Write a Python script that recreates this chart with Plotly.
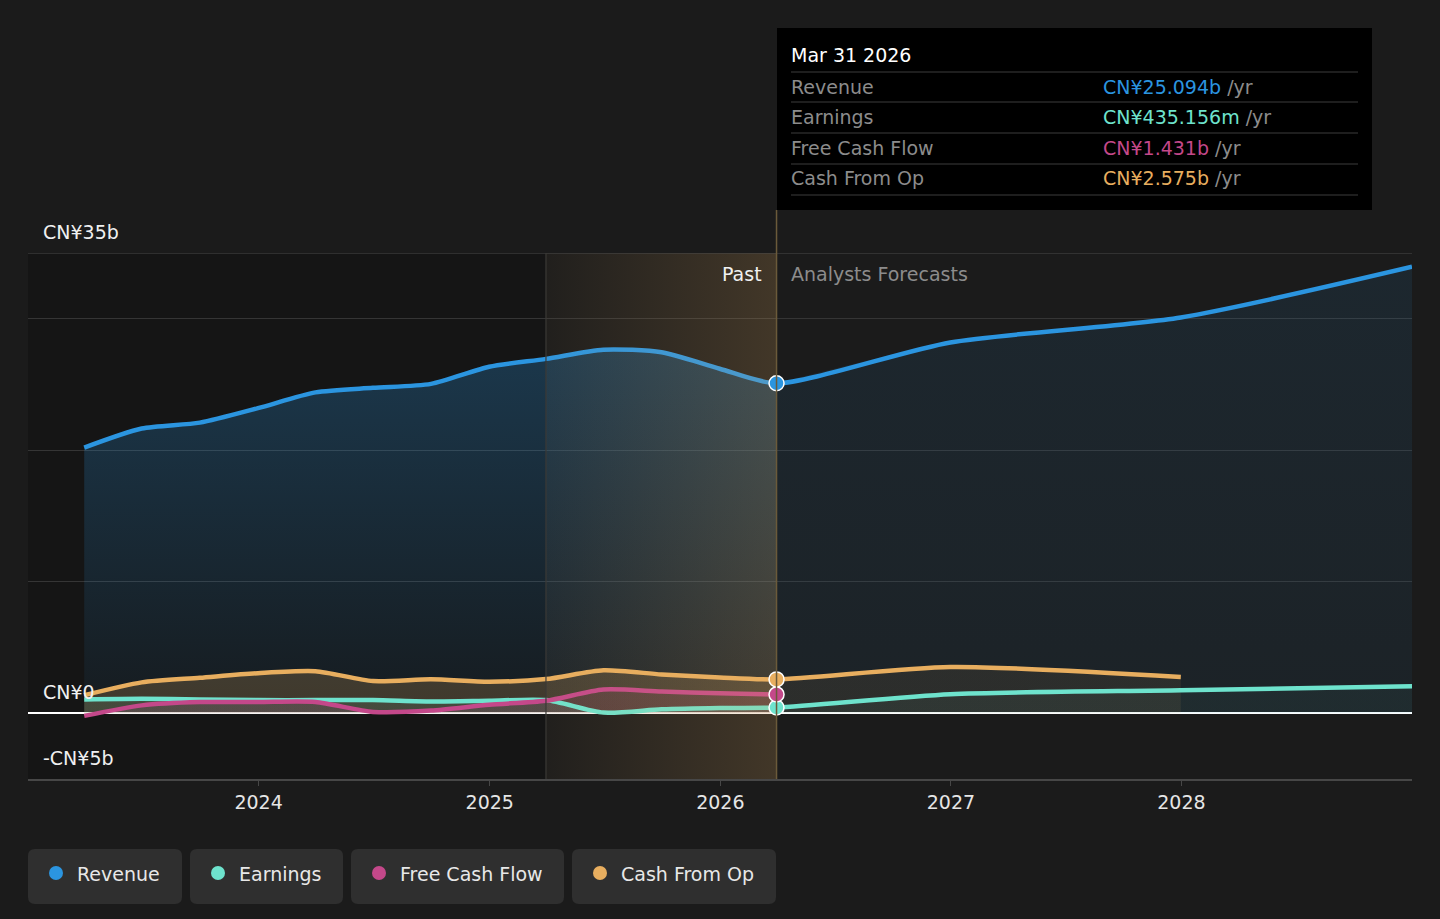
import plotly.graph_objects as go
import datetime as dt

# values in CN¥ billions
past_dates = ["2023-03-31", "2023-06-30", "2023-09-30", "2023-12-31", "2024-03-31",
              "2024-06-30", "2024-09-30", "2024-12-31", "2025-03-31", "2025-06-30",
              "2025-09-30", "2025-12-31", "2026-03-31"]
revenue_past = [20.2, 21.65, 22.1, 23.2, 24.4, 24.75, 25.05, 26.35, 26.95, 27.65, 27.45, 26.2, 25.094]
earnings_past = [1.05, 1.1, 1.05, 1.0, 1.0, 1.0, 0.9, 0.95, 1.0, 0.05, 0.3, 0.4, 0.435156]
fcf_past = [-0.2, 0.6, 0.85, 0.85, 0.85, 0.1, 0.2, 0.65, 0.95, 1.8, 1.65, 1.52, 1.431]
cfo_past = [1.37, 2.35, 2.7, 3.05, 3.2, 2.45, 2.58, 2.4, 2.6, 3.27, 2.95, 2.72, 2.575]

fc_dates = ["2026-03-31", "2026-12-31", "2027-12-31", "2028-12-31"]
revenue_fc = [25.094, 28.2, 30.1, 33.95]
earnings_fc = [0.435156, 1.45, 1.75, 2.05]
cfo_fc = [2.575, 3.52, 2.76]

series_names = ["Revenue", "Earnings", "Free Cash Flow", "Cash From Op"]
colors = ["#2b95e0", "#6ee3cd", "#c4488a", "#e8ae5f"]

x_range = ["2023-01-01", "2028-12-31"]
y_range = [-5, 35]
year_ticks = ["2024-01-01", "2025-01-01", "2026-01-01", "2027-01-01", "2028-01-01"]
year_labels = ["2024", "2025", "2026", "2027", "2028"]
y_label_vals = [35, 0, -5]
y_label_text = ["CN¥35b", "CN¥0", "-CN¥5b"]
highlight_start = "2025-03-31"
today = "2026-03-31"
tooltip_date = "Mar 31 2026"

FONT = "DejaVu Sans"
BG = "#1b1b1b"

# plot area in pixels (for placing the overlay boxes)
L, R, T, B = 28, 1412, 253, 779


def px(x):
    return (x - L) / (R - L)


def py(y):
    return (B - y) / (B - T)


def fmt(v):
    if abs(v) < 1:
        return f"CN¥{v * 1000:.3f}m"
    return f"CN¥{v:.3f}b"


def rgba(hexc, a):
    h = hexc.lstrip("#")
    r, g, b = int(h[0:2], 16), int(h[2:4], 16), int(h[4:6], 16)
    return f"rgba({r},{g},{b},{a})"


fig = go.Figure()

# area fills (past brighter, forecast dimmer)
fills = [
    (past_dates, revenue_past, colors[0], 0.05, 0.27),
    (fc_dates, revenue_fc, colors[0], 0.06, 0.10),
    (past_dates, cfo_past, colors[3], 0.2, 0.2),
    (fc_dates[:3], cfo_fc, colors[3], 0.08, 0.08),
    (past_dates, fcf_past, colors[2], 0.14, 0.14),
    (past_dates, earnings_past, colors[1], 0.1, 0.1),
    (fc_dates, earnings_fc, colors[1], 0.05, 0.05),
]
for xs, ys, c, a0, a1 in fills:
    fig.add_trace(go.Scatter(
        x=xs, y=ys, mode="lines", fill="tozeroy",
        line=dict(width=0, shape="spline", smoothing=0.7),
        fillgradient=dict(type="vertical", colorscale=[[0, rgba(c, a0)], [1, rgba(c, a1)]]),
        hoverinfo="skip", showlegend=False,
    ))

# lines
lines = [
    (past_dates + fc_dates[1:], revenue_past + revenue_fc[1:], colors[0]),
    (past_dates + fc_dates[1:], earnings_past + earnings_fc[1:], colors[1]),
    (past_dates, fcf_past, colors[2]),
    (past_dates + fc_dates[1:3], cfo_past + cfo_fc[1:], colors[3]),
]
for (xs, ys, c), name in zip(lines, series_names):
    fig.add_trace(go.Scatter(
        x=xs, y=ys, mode="lines", name=name,
        line=dict(color=c, width=4.5, shape="spline", smoothing=0.7),
        hoverinfo="skip", showlegend=False,
    ))

# highlighted last year of the past (drawn over the lines)
fig.add_trace(go.Scatter(
    x=[highlight_start, today, today, highlight_start],
    y=[y_range[0], y_range[0], y_range[1], y_range[1]],
    mode="none", fill="toself",
    fillgradient=dict(type="horizontal",
                      colorscale=[[0, "rgba(232,174,96,0.03)"], [1, "rgba(232,174,96,0.19)"]]),
    hoverinfo="skip", showlegend=False,
))

# markers at the current point
now_vals = [revenue_past[-1], earnings_past[-1], fcf_past[-1], cfo_past[-1]]
for v, c in zip(now_vals, colors):
    fig.add_trace(go.Scatter(
        x=[today], y=[v], mode="markers",
        marker=dict(size=15, color=c, line=dict(color="white", width=1.5)),
        hoverinfo="skip", showlegend=False,
    ))

shapes = []
# darker past region
shapes.append(dict(type="rect", xref="x", yref="paper", x0=x_range[0], x1=highlight_start,
                   y0=0, y1=1, fillcolor="rgba(0,0,0,0.2)", line_width=0, layer="below"))
# top gridline
shapes.append(dict(type="line", xref="paper", yref="y", x0=0, x1=1, y0=35, y1=35,
                   line=dict(color="#4a4a4a", width=1.2)))
# edge of highlight
shapes.append(dict(type="line", xref="x", yref="paper", x0=highlight_start, x1=highlight_start,
                   y0=0, y1=1, line=dict(color="#3c3a36", width=1.2)))

# today line, running up to the tooltip
d0 = dt.date.fromisoformat(x_range[0])
d1 = dt.date.fromisoformat(x_range[1])
dn = dt.date.fromisoformat(today)
today_paper = (dn - d0).days / (d1 - d0).days
shapes.append(dict(type="line", xref="paper", yref="paper", x0=today_paper, x1=today_paper,
                   y0=0, y1=py(210), line=dict(color="#6b5a3a", width=1.5)))

# tooltip box
shapes.append(dict(type="rect", xref="paper", yref="paper", x0=px(777), x1=px(1372),
                   y0=py(210), y1=py(28), fillcolor="#000000", line_width=0))
for yy in [72, 102, 133, 164, 195]:
    shapes.append(dict(type="line", xref="paper", yref="paper", x0=px(791), x1=px(1358),
                       y0=py(yy), y1=py(yy), line=dict(color="#3d3d3d", width=1.2)))


def rounded(x0, x1, y0, y1, r=7):
    # pixel box -> paper-space path with rounded corners
    rx = r / (R - L)
    ry = r / (B - T)
    a, b = px(x0), px(x1)
    top, bot = py(y0), py(y1)
    return (f"M {a + rx},{top} L {b - rx},{top} Q {b},{top} {b},{top - ry} "
            f"L {b},{bot + ry} Q {b},{bot} {b - rx},{bot} L {a + rx},{bot} "
            f"Q {a},{bot} {a},{bot + ry} L {a},{top - ry} Q {a},{top} {a + rx},{top} Z")


annotations = []
# legend boxes
legend_boxes = [(28, 182), (190, 343), (351, 564), (572, 776)]
for (lx0, lx1), name, c in zip(legend_boxes, series_names, colors):
    shapes.append(dict(type="path", xref="paper", yref="paper", path=rounded(lx0, lx1, 849, 904),
                       fillcolor="#2f2f2f", line_width=0))
    shapes.append(dict(type="circle", xref="paper", yref="paper", xsizemode="pixel",
                       ysizemode="pixel", xanchor=px(lx0 + 28), yanchor=py(873),
                       x0=-7, x1=7, y0=-7, y1=7, fillcolor=c, line_width=0))
    annotations.append(dict(xref="paper", yref="paper", x=px(lx0 + 47), y=py(874),
                            xanchor="left", yanchor="middle", text=name, showarrow=False,
                            font=dict(family=FONT, size=19, color="#e8e8e8")))

# y labels above their gridlines
for v, t in zip(y_label_vals, y_label_text):
    annotations.append(dict(xref="paper", yref="y", x=px(41), y=v, xanchor="left",
                            yanchor="middle", yshift=21, text=t, showarrow=False,
                            font=dict(family=FONT, size=19, color="#f0f0f0")))

annotations.append(dict(xref="paper", yref="paper", x=px(764), y=py(274), xanchor="right",
                        yanchor="middle", text="Past", showarrow=False,
                        font=dict(family=FONT, size=19, color="#f0f0f0")))
annotations.append(dict(xref="paper", yref="paper", x=px(789), y=py(274), xanchor="left",
                        yanchor="middle", text="Analysts Forecasts", showarrow=False,
                        font=dict(family=FONT, size=19, color="#8c8c8c")))

# tooltip text
annotations.append(dict(xref="paper", yref="paper", x=px(789), y=py(55), xanchor="left",
                        yanchor="middle", text=tooltip_date, showarrow=False,
                        font=dict(family=FONT, size=19, color="#ffffff")))
for yy, name, v, c in zip([87, 117, 148, 178], series_names, now_vals, colors):
    annotations.append(dict(xref="paper", yref="paper", x=px(789), y=py(yy), xanchor="left",
                            yanchor="middle", text=name, showarrow=False,
                            font=dict(family=FONT, size=19, color="#8c8c8c")))
    annotations.append(dict(xref="paper", yref="paper", x=px(1101), y=py(yy), xanchor="left",
                            yanchor="middle", showarrow=False,
                            text=f"<span style='color:{c}'>{fmt(v)}</span> /yr",
                            font=dict(family=FONT, size=19, color="#8c8c8c")))

fig.update_layout(
    width=1440, height=919,
    margin=dict(l=L, r=1440 - R, t=T, b=919 - B),
    paper_bgcolor=BG, plot_bgcolor=BG,
    font=dict(family=FONT, size=19, color="#e0e0e0"),
    showlegend=False,
    shapes=shapes,
    annotations=annotations,
    xaxis=dict(type="date", range=x_range, tickvals=year_ticks, ticktext=year_labels,
               showgrid=False, zeroline=False, showline=True, linecolor="#474747", linewidth=1.5,
               ticks="outside", ticklen=5, tickcolor="#474747", tickwidth=1.2,
               tickfont=dict(family=FONT, size=19, color="#e6e6e6")),
    yaxis=dict(range=y_range, tickvals=[10, 20, 30], showticklabels=False,
               showgrid=True, gridcolor="#353535", gridwidth=1.2,
               zeroline=True, zerolinecolor="#ffffff", zerolinewidth=2),
)

# page margin off so the figure sits at the window origin
fig.write_html("out.html", config={"displayModeBar": False},
               post_script="document.body.style.margin='0';"
                           "document.body.style.background='#1b1b1b';")
